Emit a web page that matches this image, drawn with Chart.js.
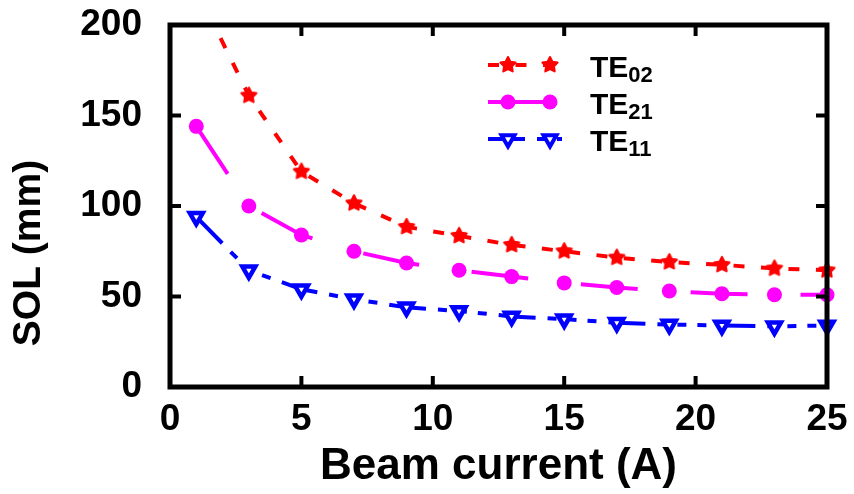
<!DOCTYPE html>
<html>
<head>
<meta charset="utf-8">
<script src="https://cdn.jsdelivr.net/npm/chart.js@4.4.1/dist/chart.umd.min.js"></script>
<style>
  html, body { margin: 0; padding: 0; background: #fff; }
  #wrap { width: 854px; height: 494px; }
</style>
</head>
<body>
<div id="wrap"><canvas id="chart" width="854" height="494"></canvas></div>
<script>
// Beam current (A)
const current = [1, 3, 5, 7, 9, 11, 13, 15, 17, 19, 21, 23, 25];
// SOL (mm) per mode
const te02 = [220, 161, 119, 101.5, 88.5, 83.5, 78.5, 75, 71.5, 69, 67.5, 65.5, 64.5];
const te21 = [144, 100, 84, 75, 68.5, 64.5, 61, 57.5, 55, 53, 51.5, 51, 51];
const te11 = [94, 64.5, 54, 48.5, 44, 42, 39, 37.5, 35.5, 34.5, 34, 33.5, 34];

const legendMain = ['TE', 'TE', 'TE'];
const legendSub = ['02', '21', '11'];
const yTitle = 'SOL (mm)';

const xTicks = [0, 5, 10, 15, 20, 25];
const yTicks = [0, 50, 100, 150, 200];

const FONT = '"Liberation Sans", Arial, sans-serif';

function makeStar(color, r) {
  const c = document.createElement('canvas');
  const s = Math.ceil(r * 2 + 4);
  c.width = c.height = s;
  const g = c.getContext('2d');
  g.translate(s / 2, s / 2);
  g.beginPath();
  for (let i = 0; i < 10; i++) {
    const a = -Math.PI / 2 + i * Math.PI / 5;
    const rr = i % 2 ? r * 0.52 : r;
    g.lineTo(rr * Math.cos(a), rr * Math.sin(a));
  }
  g.closePath();
  g.fillStyle = color; g.strokeStyle = color;
  g.lineWidth = 2; g.lineJoin = 'round';
  g.fill(); g.stroke();
  return c;
}

const toPoints = ys => ys.map((v, i) => ({ x: current[i], y: v }));
const clipBox = { left: 12, right: 12, top: 0, bottom: 12 };

// frame + inward ticks + y title
const framePlugin = {
  id: 'frame',
  afterDatasetsDraw(chart) {
    const { ctx, chartArea: a, scales: { x, y } } = chart;
    ctx.save();
    ctx.strokeStyle = '#000';
    ctx.lineWidth = 5;
    ctx.strokeRect(a.left, a.top, a.right - a.left, a.bottom - a.top);
    ctx.lineWidth = 4;
    ctx.beginPath();
    x.ticks.forEach(t => {
      const px = x.getPixelForValue(t.value);
      ctx.moveTo(px, a.bottom); ctx.lineTo(px, a.bottom - 11);
      ctx.moveTo(px, a.top); ctx.lineTo(px, a.top + 11);
    });
    y.ticks.forEach(t => {
      const py = y.getPixelForValue(t.value);
      ctx.moveTo(a.left, py); ctx.lineTo(a.left + 11, py);
      ctx.moveTo(a.right, py); ctx.lineTo(a.right - 11, py);
    });
    ctx.stroke();

    // y axis title, sits lower than centre in the original
    ctx.translate(29, 253);
    ctx.rotate(-Math.PI / 2);
    ctx.fillStyle = '#000';
    ctx.font = 'bold 39px ' + FONT;
    ctx.textAlign = 'center';
    ctx.textBaseline = 'middle';
    ctx.fillText(yTitle, 0, 0);
    ctx.restore();
  }
};

// legend with subscripts
const legendPlugin = {
  id: 'subLegend',
  afterDraw(chart) {
    const { ctx } = chart;
    chart.data.datasets.forEach((ds, i) => {
      const yy = 65 + i * 37;
      ctx.save();
      ctx.strokeStyle = ds.borderColor;
      ctx.lineWidth = ds.borderWidth;
      ctx.setLineDash(ds.borderDash || []);
      ctx.beginPath();
      ctx.moveTo(488, yy); ctx.lineTo(562, yy);
      ctx.stroke();
      ctx.setLineDash([]);
      ctx.fillStyle = ds.pointBackgroundColor;
      ctx.strokeStyle = ds.pointBorderColor;
      [508, 550].forEach(px => {
        Chart.helpers.drawPoint(ctx, {
          pointStyle: ds.pointStyle, radius: ds.pointRadius,
          rotation: ds.pointRotation || 0, borderWidth: ds.pointBorderWidth
        }, px, yy);
      });
      ctx.fillStyle = '#000';
      ctx.textBaseline = 'alphabetic';
      ctx.font = 'bold 30px ' + FONT;
      ctx.fillText(legendMain[i], 590, yy + 12);
      const w = ctx.measureText(legendMain[i]).width;
      ctx.font = 'bold 22px ' + FONT;
      ctx.fillText(legendSub[i], 590 + w, yy + 17);
      ctx.restore();
    });
  }
};

new Chart(document.getElementById('chart'), {
  type: 'line',
  data: {
    datasets: [
      {
        label: 'TE02', data: toPoints(te02),
        borderColor: '#ff0000', borderWidth: 4, borderDash: [11, 16.5],
        pointStyle: makeStar('#ff0000', 8), pointRadius: 8,
        pointBackgroundColor: '#ff0000', pointBorderColor: '#ff0000', pointBorderWidth: 0,
        clip: clipBox
      },
      {
        label: 'TE21', data: toPoints(te21),
        borderColor: '#ff00ff', borderWidth: 4, borderDash: [57, 53],
        pointStyle: 'circle', pointRadius: 7.5,
        pointBackgroundColor: '#ff00ff', pointBorderColor: '#ff00ff', pointBorderWidth: 0,
        clip: clipBox
      },
      {
        label: 'TE11', data: toPoints(te11),
        borderColor: '#0000ff', borderWidth: 4, borderDash: [37, 12, 9, 11, 9, 11, 9, 12],
        pointStyle: 'triangle', pointRotation: 180, pointRadius: 7.5,
        pointBackgroundColor: '#ffffff', pointBorderColor: '#0000ff', pointBorderWidth: 4.5,
        clip: clipBox
      }
    ]
  },
  options: {
    responsive: false,
    devicePixelRatio: 1,
    animation: false,
    layout: { padding: { top: 25, right: 27, left: 0, bottom: 0 } },
    elements: { line: { tension: 0 } },
    plugins: { legend: { display: false }, tooltip: { enabled: false } },
    scales: {
      x: {
        type: 'linear', min: 0, max: 25,
        afterFit: s => { s.height = 107; s.paddingLeft = 0; s.paddingRight = 0; },
        afterBuildTicks: s => { s.ticks = xTicks.map(v => ({ value: v })); },
        grid: { display: false, drawTicks: false },
        border: { display: false },
        ticks: { color: '#000', padding: 14, font: { family: FONT, size: 37, weight: 'bold', lineHeight: 1 } },
        title: {
          display: true, text: 'Beam current (A)', color: '#000',
          font: { family: FONT, size: 44, weight: 'bold', lineHeight: 1 },
          padding: { top: 0, bottom: 5 }
        }
      },
      y: {
        min: 0, max: 200,
        afterFit: s => { s.width = 170; s.paddingTop = 0; s.paddingBottom = 0; },
        afterBuildTicks: s => { s.ticks = yTicks.map(v => ({ value: v })); },
        grid: { display: false, drawTicks: false },
        border: { display: false },
        ticks: { color: '#000', padding: 28, font: { family: FONT, size: 37, weight: 'bold', lineHeight: 1 } },
        title: { display: false }
      }
    }
  },
  plugins: [framePlugin, legendPlugin]
});
</script>
</body>
</html>
